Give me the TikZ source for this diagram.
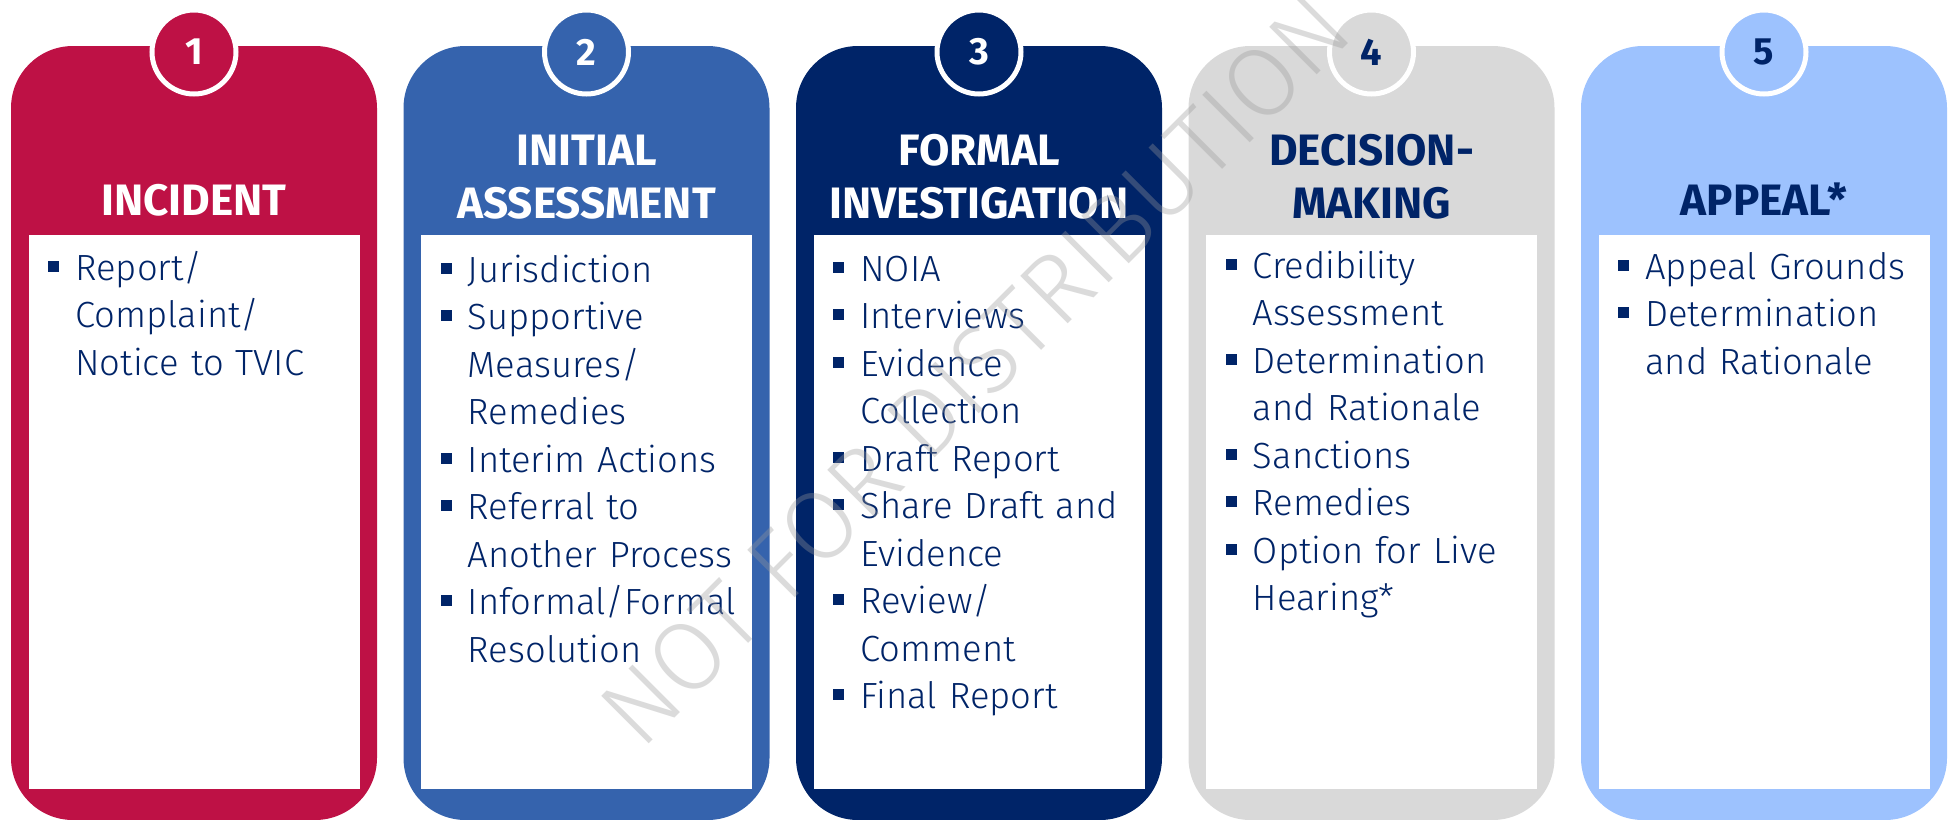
\documentclass[tikz,border=0pt]{standalone}
\usepackage{fontspec}
\setmainfont{Fira Sans}[UprightFont=* Light, BoldFont=* Bold]
\usepackage{tikz}

\definecolor{incred}{RGB}{190,17,69}
\definecolor{assblue}{RGB}{53,99,173}
\definecolor{invnavy}{RGB}{0,36,104}
\definecolor{decgray}{RGB}{217,217,217}
\definecolor{appblue}{RGB}{157,194,254}
\definecolor{txtnavy}{RGB}{0,36,104}

\newcommand{\sqbul}{\leavevmode\llap{\textcolor{txtnavy}{\rule[4.25pt]{5.5pt}{5.5pt}}\hspace{8pt}}}

\begin{document}
\begin{tikzpicture}[x=0.5pt, y=-0.5pt,
    card/.style={rounded corners=31pt},
    numdot/.style={circle, draw=white, line width=2.5pt, minimum size=42pt, inner sep=0pt,
      font=\fontsize{19}{19}\bfseries\selectfont},
    title/.style={anchor=base, inner sep=0pt, text width=170pt, align=center,
      font=\fontsize{22}{26.5}\bfseries\selectfont},
    items/.style={anchor=base west, inner sep=0pt, text width=160pt, align=left, text=txtnavy,
      font=\fontsize{18.2}{23.75}\selectfont}]

  \useasboundingbox (0,0) rectangle (1951,820);

  \foreach \i/\col/\ink in {1/incred/white, 2/assblue/white, 3/invnavy/white,
                            4/decgray/txtnavy, 5/appblue/txtnavy}{
    \pgfmathsetmacro\cl{11+392.5*(\i-1)}
    \fill[\col, card] (\cl,46) rectangle ++(366,774);
    \fill[white] (\cl+17.5,235) rectangle (\cl+348.5,789);
    \node[numdot, fill=\col, text=\ink] (num\i) at (\cl+183,52) {\i};
  }

  % headings
  \node[title, text=white] (head1) at (194,215) {INCIDENT};
  \node[title, text=white] (head2) at (586.5,165) {INITIAL\\ASSESSMENT};
  \node[title, text=white] (head3) at (979,165) {FORMAL\\INVESTIGATION};
  \node[title, text=txtnavy] (head4) at (1371.5,165) {DECISION-\\MAKING};
  \node[title, text=txtnavy] (head5) at (1764,215) {APPEAL*};

  % bullet lists
  \node[items] (list1) at (75,280) {\sqbul Report/\\ Complaint/\\ Notice to TVIC};
  \node[items] (list2) at (467.5,282) {\sqbul Jurisdiction\\ \sqbul Supportive\\ Measures/\\ Remedies\\
    \sqbul Interim Actions\\ \sqbul Referral to\\ Another Process\\ \sqbul Informal/Formal\\ Resolution};
  \node[items] (list3) at (860,281) {\sqbul NOIA\\ \sqbul Interviews\\ \sqbul Evidence\\ Collection\\
    \sqbul Draft Report\\ \sqbul Share Draft and\\ Evidence\\ \sqbul Review/\\ Comment\\ \sqbul Final Report};
  \node[items] (list4) at (1252.5,278) {\sqbul Credibility\\ Assessment\\ \sqbul Determination\\ and Rationale\\
    \sqbul Sanctions\\ \sqbul Remedies\\ \sqbul Option for Live\\ Hearing*};
  \node[items] (list5) at (1645,279) {\sqbul Appeal Grounds\\ \sqbul Determination\\ and Rationale};

  \node[rotate=45, text=black!40, text opacity=0.35, font=\fontsize{49}{49}\selectfont]
    (stamp) at (975,370) {NOT FOR DISTRIBUTION};

\end{tikzpicture}
\end{document}
